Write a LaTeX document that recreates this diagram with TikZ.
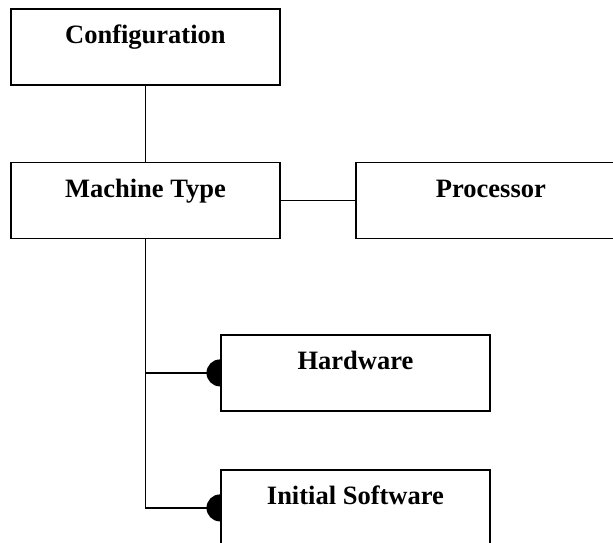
\documentclass[tikz,border=0pt]{standalone}
\usepackage{fontspec}
\setmainfont{Liberation Serif}
\begin{document}
\begin{tikzpicture}[x=1pt,y=-1pt,
  box/.style={draw=black,line width=1.8pt,minimum width=269pt,minimum height=76pt,inner sep=0pt,anchor=north west},
  lbl/.style={font=\fontsize{26.5pt}{30pt}\selectfont\bfseries,anchor=base,inner sep=0pt},
  conn/.style={draw=black,line width=1.5pt},
  knob/.style={fill=black}]
\useasboundingbox (0,0) rectangle (613,542);
\begin{scope}
\clip (0,0) rectangle (613,542);
\node[box] (conf) at (10,8) {};
\node[box] (mt) at (10,161.5) {};
\node[box,minimum width=270pt] (proc) at (355,161.5) {};
\node[box] (hw) at (220,334) {};
\node[box] (is) at (220,469) {};
\node[lbl] (tconf) at ([yshift=-35.5pt]conf.north) {Configuration};
\node[lbl] (tmt) at ([yshift=-35.5pt]mt.north) {Machine Type};
\node[lbl] (tproc) at ([yshift=-35.5pt]proc.north) {Processor};
\node[lbl] (thw) at ([yshift=-35pt]hw.north) {Hardware};
\node[lbl] (tis) at ([yshift=-35.5pt]is.north) {Initial Software};
\draw[conn] (conf.south) -- (mt.north);
\draw[conn] (mt.east) -- (proc.west);
\draw[conn] (mt.south) |- (is.west);
\draw[conn] (mt.south) |- (hw.west);
\fill[knob] (hw.west) ++(0,13.5) arc[start angle=90,end angle=270,radius=13.5] -- cycle;
\fill[knob] (is.west) ++(0,13.5) arc[start angle=90,end angle=270,radius=13.5] -- cycle;
\end{scope}
\end{tikzpicture}
\end{document}
